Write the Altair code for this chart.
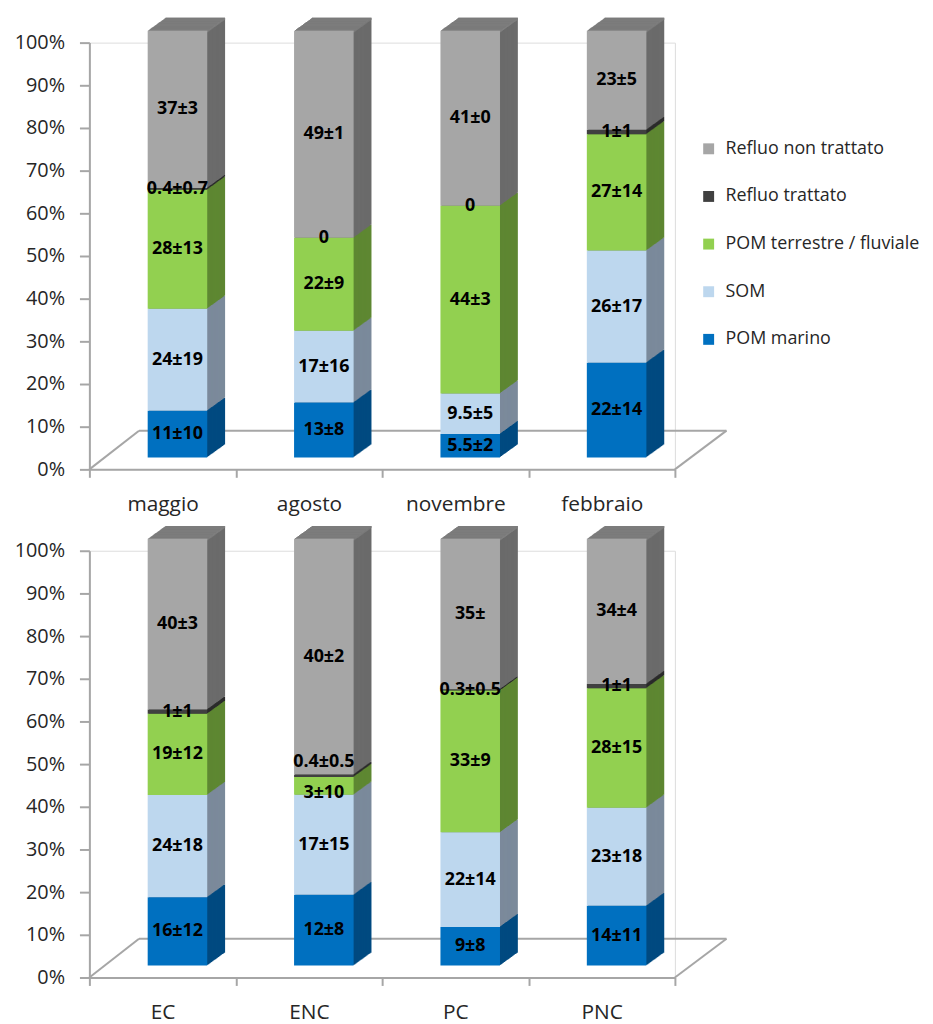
import altair as alt
import pandas as pd

# ---- data ----
series = ["POM marino", "SOM", "POM terrestre / fluviale", "Refluo trattato", "Refluo non trattato"]
front_colors = ["#0070c0", "#bdd7ee", "#92d050", "#404040", "#a6a6a6"]
side_colors = ["#004a80", "#7b8a9b", "#5e8732", "#2b2b2b", "#6b6b6b"]
top_color = "#808080"

top_cats = ["maggio", "agosto", "novembre", "febbraio"]
top_pom_marino = [11, 13, 5.5, 22]
top_som = [24, 17, 9.5, 26]
top_pom_terr = [28, 22, 44, 27]
top_refluo_tratt = [0.4, 0, 0, 1]
top_refluo_non = [37, 49, 41, 23]
top_lab_pom_marino = ["11±10", "13±8", "5.5±2", "22±14"]
top_lab_som = ["24±19", "17±16", "9.5±5", "26±17"]
top_lab_pom_terr = ["28±13", "22±9", "44±3", "27±14"]
top_lab_refluo_tratt = ["0.4±0.7", "0", "0", "1±1"]
top_lab_refluo_non = ["37±3", "49±1", "41±0", "23±5"]

bot_cats = ["EC", "ENC", "PC", "PNC"]
bot_pom_marino = [16, 12, 9, 14]
bot_som = [24, 17, 22, 23]
bot_pom_terr = [19, 3, 33, 28]
bot_refluo_tratt = [1, 0.4, 0.3, 1]
bot_refluo_non = [40, 40, 35, 34]
bot_lab_pom_marino = ["16±12", "12±8", "9±8", "14±11"]
bot_lab_som = ["24±18", "17±15", "22±14", "23±18"]
bot_lab_pom_terr = ["19±12", "3±10", "33±9", "28±15"]
bot_lab_refluo_tratt = ["1±1", "0.4±0.5", "0.3±0.5", "1±1"]
bot_lab_refluo_non = ["40±3", "40±2", "35±", "34±4"]

FONT = "Open Sans"
W, H = 590, 430
BAR = 60
DX0, DY0 = 15, -12
DEPTH_X, DEPTH_Y = 18, 13


def build_df(cats, vals, labs):
    rows = []
    for i, c in enumerate(cats):
        for j, s in enumerate(series):
            rows.append({"cat": c, "src": s, "order": j, "value": vals[j][i],
                         "label": labs[j][i], "side": side_colors[j]})
    return pd.DataFrame(rows)


def panel(cats, vals, labs):
    df = build_df(cats, vals, labs)
    base = alt.Chart(df).transform_stack(
        stack="value", groupby=["cat"], as_=["y0", "y1"], offset="normalize",
        sort=[alt.SortField("order", order="ascending")]
    ).transform_calculate(mid="(datum.y0 + datum.y1) / 2", ytop="datum.y1 - 0.005")

    x = alt.X("cat:N", sort=cats, title=None,
              scale=alt.Scale(paddingInner=0, paddingOuter=0),
              axis=alt.Axis(labelAngle=0, tickBand="extent", tickSize=8, labelPadding=16,
                            labelFontSize=21, labelColor="#262626", domainColor="#a6a6a6",
                            tickColor="#a6a6a6", domainWidth=2, tickWidth=2))
    yax = alt.Axis(values=[i / 10 for i in range(11)], format=".0%", tickSize=10,
                   labelPadding=15, labelFontSize=20, labelColor="#262626", grid=False,
                   domainColor="#a6a6a6", tickColor="#a6a6a6", domainWidth=2, tickWidth=2)
    yscale = alt.Scale(domain=[0, 1], nice=False)
    y = alt.Y("y0:Q", title=None, scale=yscale, axis=yax)

    one = pd.DataFrame({"a": [0]})
    floor_style = dict(color="#a6a6a6", strokeWidth=2)
    floor = [
        alt.Chart(one).mark_rule(**floor_style).encode(
            x=alt.value(50), x2=alt.value(642), y=alt.value(H - 39), y2=alt.value(H - 39)),
        alt.Chart(one).mark_rule(**floor_style).encode(
            x=alt.value(0), x2=alt.value(50), y=alt.value(H), y2=alt.value(H - 39)),
        alt.Chart(one).mark_rule(**floor_style).encode(
            x=alt.value(W), x2=alt.value(642), y=alt.value(H), y2=alt.value(H - 39)),
    ]

    layers = list(floor)
    for k in range(DEPTH_X, 0, -1):
        dx = DX0 + k
        dy = DY0 - k * DEPTH_Y / DEPTH_X
        layers.append(base.mark_bar(size=BAR, xOffset=dx, yOffset=dy, y2Offset=dy,
                                    strokeWidth=0).encode(
            x=x, y=y, y2="y1:Q", fill=alt.Fill("side:N", scale=None)))
        layers.append(base.transform_filter(alt.datum.order == 4).mark_bar(
            size=BAR, xOffset=dx, yOffset=dy, y2Offset=dy, strokeWidth=0,
            color=top_color).encode(
            x=x, y=alt.Y("ytop:Q", title=None, scale=yscale, axis=yax), y2="y1:Q"))

    front = base.mark_bar(size=BAR, xOffset=DX0, yOffset=DY0, y2Offset=DY0,
                          strokeWidth=0).encode(
        x=x, y=y, y2="y1:Q",
        color=alt.Color("src:N",
                        scale=alt.Scale(domain=series[::-1], range=front_colors[::-1]),
                        legend=alt.Legend(title=None, orient="none", legendX=615, legendY=98,
                                          symbolType="square", symbolSize=121,
                                          symbolStrokeWidth=0, labelFontSize=18,
                                          labelColor="#262626", rowPadding=30,
                                          labelOffset=8, labelLimit=300)))
    ty = alt.Y("mid:Q", title=None, scale=yscale, axis=yax)
    tbase = base.transform_calculate(
        g="datum.order == 2 ? datum.value : null"
    ).transform_joinaggregate(green="max(g)", groupby=["cat"])
    crowded = "datum.green < 5 && (datum.order == 2 || datum.order == 3)"
    tstyle = dict(fontWeight="bold", fontSize=18, font=FONT, color="black", baseline="middle")
    text = tbase.transform_filter("!(" + crowded + ")").mark_text(
        dx=DX0, dy=DY0, **tstyle).encode(x=x, y=ty, text="label:N")
    text_g = tbase.transform_filter("datum.green < 5 && datum.order == 2").mark_text(
        dx=DX0, dy=DY0 + 7, **tstyle).encode(x=x, y=ty, text="label:N")
    text_r = tbase.transform_filter("datum.green < 5 && datum.order == 3").mark_text(
        dx=DX0, dy=DY0 - 14, **tstyle).encode(x=x, y=ty, text="label:N")
    layers += [front, text, text_g, text_r]
    return alt.layer(*layers).properties(width=W, height=H)


top = panel(top_cats,
            [top_pom_marino, top_som, top_pom_terr, top_refluo_tratt, top_refluo_non],
            [top_lab_pom_marino, top_lab_som, top_lab_pom_terr, top_lab_refluo_tratt, top_lab_refluo_non])
bot = panel(bot_cats,
            [bot_pom_marino, bot_som, bot_pom_terr, bot_refluo_tratt, bot_refluo_non],
            [bot_lab_pom_marino, bot_lab_som, bot_lab_pom_terr, bot_lab_refluo_tratt, bot_lab_refluo_non])

chart = alt.vconcat(top, bot, spacing=10).properties(
    padding={"top": 5, "left": 5, "right": 5, "bottom": 0}
).configure_view(stroke=None).configure(
    font=FONT).configure_axis(labelFont=FONT).configure_legend(labelFont=FONT)

chart.save("out.html", embed_options={"renderer": "svg", "actions": False})
